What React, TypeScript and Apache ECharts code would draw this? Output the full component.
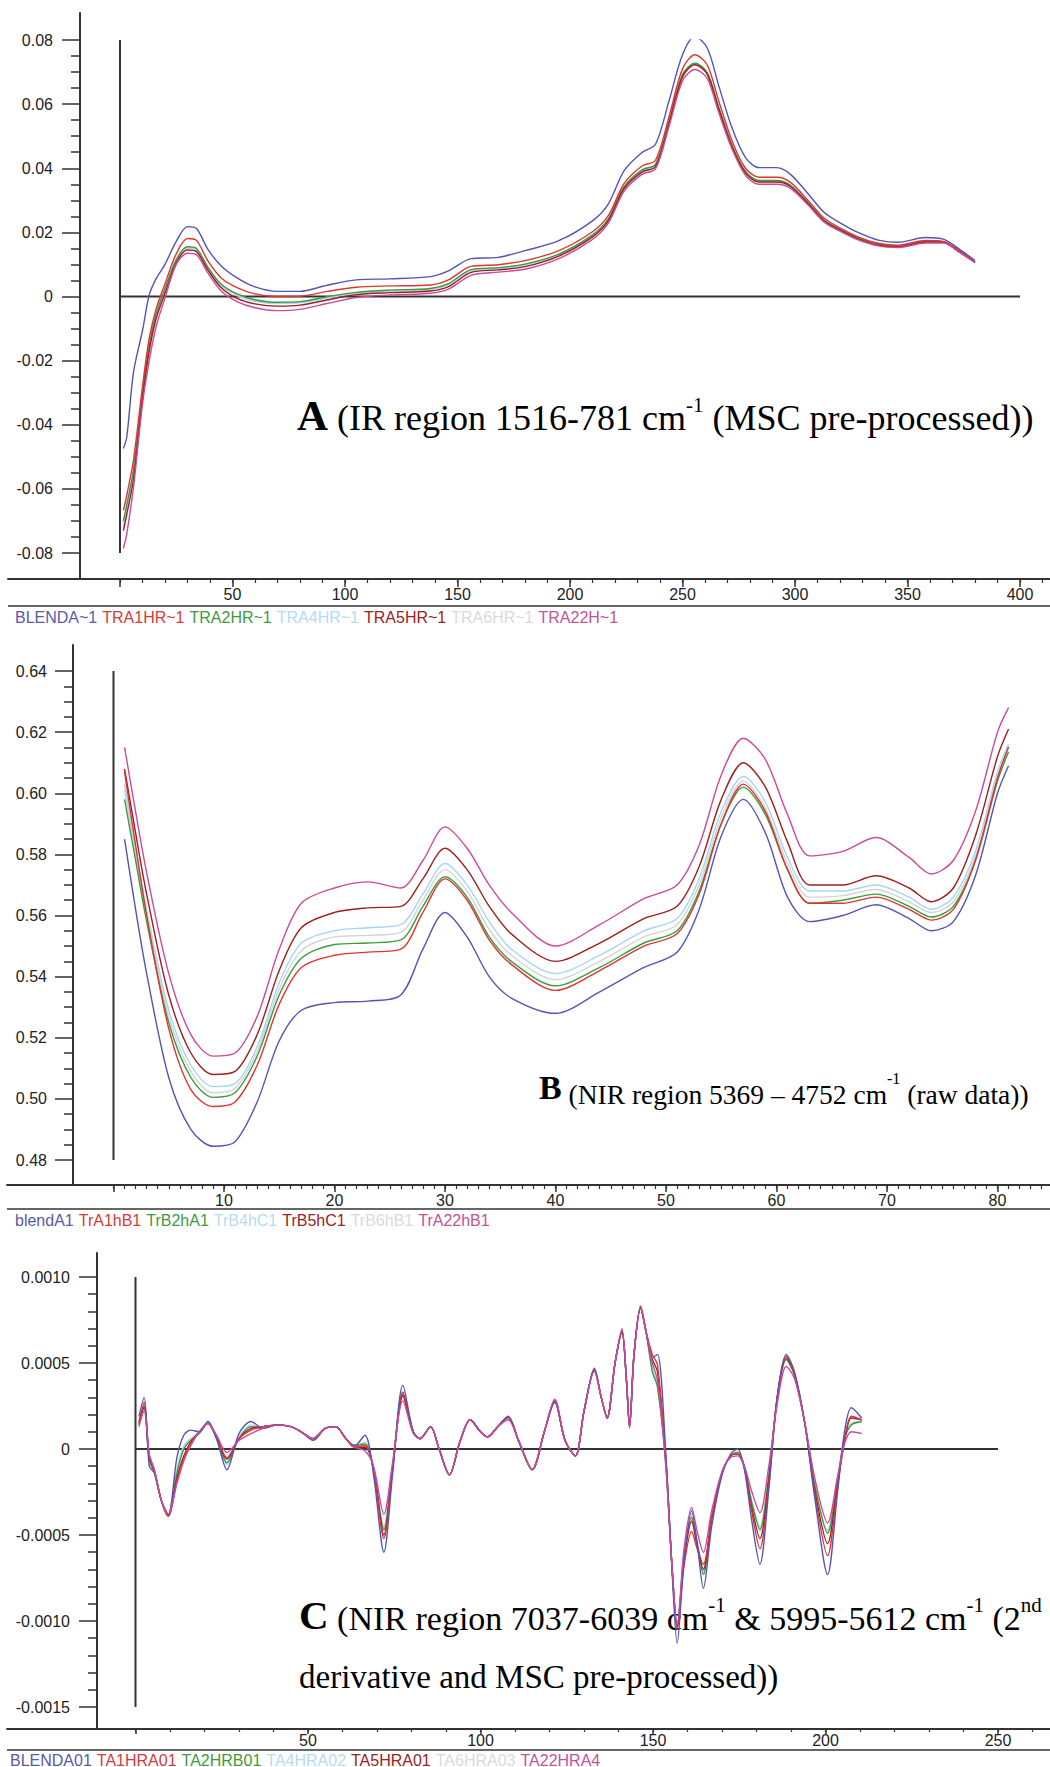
import React, { useEffect, useRef } from 'react';
import * as echarts from 'echarts';

const AXIS_COLOR = '#333333';
const LABEL_COLOR = '#222222';
const SANS = "'Liberation Sans', Arial, sans-serif";
const SERIF = "'Liberation Serif', 'Times New Roman', serif";

const LINE_COLORS = ['#5454b4', '#e03434', '#3c9c3c', '#a6d6f2', '#9e1e1e', '#d4d4d4', '#cc4a9a'];
const LEGEND_COLORS = ['#5a5aa8', '#d63a3a', '#3f9a3f', '#b4dcf2', '#9a2222', '#dadada', '#c4519a'];
const Z_ORDER = [7, 6, 4, 3, 5, 2, 8];

// ---------------- Panel A ----------------
const A_NAMES = ['BLENDA~1', 'TRA1HR~1', 'TRA2HR~1', 'TRA4HR~1', 'TRA5HR~1', 'TRA6HR~1', 'TRA22H~1'];
const A_X = [1.5, 3, 6, 10, 13, 16, 20, 25, 30, 34, 39, 45, 52, 60, 70, 80, 92, 105, 120, 138, 146, 156, 168, 180, 195, 210, 217, 224, 232, 238, 244, 250, 255.5, 261, 266, 272, 278, 284, 292, 298, 306, 313, 321, 328, 337, 346, 358, 366, 373, 380];
const A_BLENDA = [-0.0474, -0.0439, -0.0236, -0.0106, 0.0005, 0.0055, 0.0100, 0.0172, 0.0218, 0.0212, 0.0148, 0.0095, 0.0058, 0.0030, 0.0016, 0.0016, 0.0035, 0.0052, 0.0055, 0.0062, 0.0080, 0.0118, 0.0122, 0.0143, 0.0174, 0.0236, 0.0288, 0.0392, 0.0449, 0.0475, 0.0610, 0.0754, 0.0811, 0.0775, 0.0660, 0.0526, 0.0433, 0.0402, 0.0402, 0.0381, 0.0319, 0.0262, 0.0226, 0.0200, 0.0176, 0.0169, 0.0184, 0.0179, 0.0148, 0.0112];
const A_TRA1HR = [-0.0667, -0.0620, -0.0510, -0.0280, -0.0130, -0.0040, 0.0040, 0.0133, 0.0181, 0.0175, 0.0112, 0.0058, 0.0028, 0.0008, 0.0000, 0.0001, 0.0016, 0.0029, 0.0033, 0.0036, 0.0052, 0.0094, 0.0099, 0.0112, 0.0143, 0.0202, 0.0252, 0.0352, 0.0407, 0.0425, 0.0560, 0.0710, 0.0754, 0.0722, 0.0612, 0.0486, 0.0400, 0.0372, 0.0372, 0.0356, 0.0298, 0.0244, 0.0210, 0.0186, 0.0166, 0.0160, 0.0175, 0.0172, 0.0143, 0.0109];
const A_TRA2HR = [-0.0700, -0.0650, -0.0540, -0.0300, -0.0150, -0.0055, 0.0025, 0.0115, 0.0155, 0.0150, 0.0092, 0.0038, 0.0008, -0.0010, -0.0018, -0.0016, -0.0001, 0.0013, 0.0020, 0.0025, 0.0040, 0.0084, 0.0090, 0.0101, 0.0132, 0.0192, 0.0242, 0.0342, 0.0395, 0.0412, 0.0545, 0.0692, 0.0728, 0.0698, 0.0592, 0.0472, 0.0390, 0.0362, 0.0362, 0.0347, 0.0291, 0.0238, 0.0206, 0.0183, 0.0163, 0.0157, 0.0172, 0.0170, 0.0141, 0.0107];
const A_TRA4HR = [-0.0715, -0.0660, -0.0550, -0.0310, -0.0160, -0.0062, 0.0018, 0.0110, 0.0150, 0.0145, 0.0088, 0.0033, 0.0003, -0.0015, -0.0022, -0.0020, -0.0005, 0.0010, 0.0017, 0.0022, 0.0037, 0.0081, 0.0087, 0.0098, 0.0130, 0.0190, 0.0240, 0.0340, 0.0392, 0.0409, 0.0542, 0.0688, 0.0725, 0.0695, 0.0590, 0.0470, 0.0388, 0.0360, 0.0360, 0.0345, 0.0290, 0.0237, 0.0205, 0.0182, 0.0162, 0.0156, 0.0171, 0.0169, 0.0140, 0.0107];
const A_TRA5HR = [-0.0730, -0.0680, -0.0570, -0.0320, -0.0170, -0.0070, 0.0010, 0.0105, 0.0145, 0.0140, 0.0083, 0.0027, -0.0006, -0.0023, -0.0030, -0.0027, -0.0011, 0.0006, 0.0012, 0.0017, 0.0031, 0.0075, 0.0083, 0.0093, 0.0126, 0.0186, 0.0236, 0.0336, 0.0388, 0.0405, 0.0540, 0.0685, 0.0723, 0.0693, 0.0587, 0.0467, 0.0385, 0.0357, 0.0357, 0.0343, 0.0288, 0.0235, 0.0203, 0.0180, 0.0160, 0.0155, 0.0170, 0.0169, 0.0139, 0.0106];
const A_TRA6HR = [-0.0705, -0.0655, -0.0545, -0.0305, -0.0155, -0.0058, 0.0022, 0.0113, 0.0153, 0.0148, 0.0090, 0.0036, 0.0006, -0.0012, -0.0020, -0.0018, -0.0003, 0.0012, 0.0019, 0.0024, 0.0039, 0.0083, 0.0089, 0.0100, 0.0131, 0.0191, 0.0241, 0.0341, 0.0394, 0.0411, 0.0544, 0.0690, 0.0727, 0.0697, 0.0591, 0.0471, 0.0389, 0.0361, 0.0361, 0.0346, 0.0290, 0.0238, 0.0206, 0.0182, 0.0163, 0.0157, 0.0172, 0.0170, 0.0140, 0.0107];
const A_TRA22H = [-0.0786, -0.0740, -0.0595, -0.0335, -0.0200, -0.0095, -0.0005, 0.0100, 0.0135, 0.0130, 0.0074, 0.0017, -0.0016, -0.0035, -0.0044, -0.0040, -0.0022, -0.0003, 0.0005, 0.0010, 0.0023, 0.0066, 0.0076, 0.0085, 0.0118, 0.0178, 0.0228, 0.0328, 0.0381, 0.0398, 0.0530, 0.0672, 0.0708, 0.0680, 0.0576, 0.0460, 0.0378, 0.0350, 0.0350, 0.0337, 0.0284, 0.0232, 0.0200, 0.0177, 0.0158, 0.0153, 0.0167, 0.0167, 0.0138, 0.0106];
const A_SERIES = [A_BLENDA, A_TRA1HR, A_TRA2HR, A_TRA4HR, A_TRA5HR, A_TRA6HR, A_TRA22H];
const A_Y_MIN = -0.08;
const A_Y_MAX = 0.08;
const A_X_MAX = 410;
const A_X_TICKS = [0, 50, 100, 150, 200, 250, 300, 350, 400];
const A_X_LABELS = [50, 100, 150, 200, 250, 300, 350, 400];
const A_BASE_END = 400;

// ---------------- Panel B ----------------
const B_NAMES = ['blendA1', 'TrA1hB1', 'TrB2hA1', 'TrB4hC1', 'TrB5hC1', 'TrB6hB1', 'TrA22hB1'];
const B_X = [1, 2, 3, 5, 7, 9, 11, 13, 15, 17, 20, 23, 26, 28, 30, 32, 34, 36, 40, 44, 48, 51, 53, 55, 57, 59, 61, 63, 66, 69, 72, 74, 76, 78, 80, 81];
const B_BLENDA1 = [0.585, 0.562, 0.541, 0.507, 0.490, 0.4845, 0.486, 0.499, 0.519, 0.529, 0.5315, 0.532, 0.534, 0.549, 0.561, 0.553, 0.540, 0.533, 0.528, 0.535, 0.543, 0.548, 0.562, 0.586, 0.598, 0.587, 0.566, 0.558, 0.560, 0.5635, 0.559, 0.555, 0.558, 0.573, 0.600, 0.609];
const B_TRA1HB1 = [0.607, 0.583, 0.560, 0.523, 0.503, 0.4975, 0.499, 0.511, 0.531, 0.543, 0.547, 0.548, 0.549, 0.561, 0.572, 0.565, 0.552, 0.544, 0.5355, 0.542, 0.550, 0.554, 0.567, 0.590, 0.603, 0.594, 0.575, 0.564, 0.564, 0.566, 0.562, 0.5585, 0.562, 0.578, 0.605, 0.6152];
const B_TRB2HA1 = [0.598, 0.578, 0.558, 0.525, 0.507, 0.5005, 0.502, 0.514, 0.534, 0.546, 0.5505, 0.551, 0.552, 0.563, 0.5727, 0.566, 0.553, 0.545, 0.537, 0.543, 0.551, 0.555, 0.568, 0.590, 0.602, 0.593, 0.575, 0.564, 0.565, 0.567, 0.563, 0.5595, 0.563, 0.578, 0.604, 0.6136];
const B_TRB4HC1 = [0.603, 0.582, 0.562, 0.529, 0.511, 0.504, 0.505, 0.517, 0.538, 0.551, 0.555, 0.556, 0.557, 0.567, 0.577, 0.570, 0.558, 0.549, 0.541, 0.547, 0.555, 0.559, 0.572, 0.594, 0.6055, 0.597, 0.579, 0.568, 0.568, 0.570, 0.566, 0.562, 0.566, 0.581, 0.607, 0.616];
const B_TRB5HC1 = [0.608, 0.587, 0.567, 0.534, 0.515, 0.508, 0.509, 0.521, 0.542, 0.556, 0.561, 0.5625, 0.563, 0.572, 0.582, 0.575, 0.563, 0.554, 0.545, 0.551, 0.559, 0.563, 0.576, 0.598, 0.610, 0.602, 0.584, 0.570, 0.570, 0.573, 0.569, 0.5645, 0.569, 0.586, 0.612, 0.621];
const B_TRB6HB1 = [0.601, 0.580, 0.560, 0.527, 0.509, 0.502, 0.5035, 0.5155, 0.536, 0.5485, 0.553, 0.5535, 0.5545, 0.565, 0.575, 0.568, 0.5555, 0.547, 0.539, 0.545, 0.553, 0.557, 0.570, 0.592, 0.604, 0.595, 0.577, 0.566, 0.5665, 0.5685, 0.5645, 0.561, 0.5645, 0.5795, 0.6055, 0.615];
const B_TRA22HB1 = [0.615, 0.594, 0.574, 0.541, 0.521, 0.514, 0.515, 0.527, 0.549, 0.564, 0.569, 0.571, 0.569, 0.578, 0.589, 0.582, 0.570, 0.561, 0.550, 0.557, 0.5655, 0.570, 0.583, 0.606, 0.618, 0.611, 0.593, 0.5795, 0.581, 0.5855, 0.579, 0.5736, 0.578, 0.594, 0.620, 0.628];
const B_SERIES = [B_BLENDA1, B_TRA1HB1, B_TRB2HA1, B_TRB4HC1, B_TRB5HC1, B_TRB6HB1, B_TRA22HB1];
const B_Y_MIN = 0.48;
const B_Y_MAX = 0.64;
const B_X_MAX = 84;
const B_X_TICKS = [0, 10, 20, 30, 40, 50, 60, 70, 80];
const B_X_LABELS = [10, 20, 30, 40, 50, 60, 70, 80];

// ---------------- Panel C ----------------
const C_NAMES = ['BLENDA01', 'TA1HRA01', 'TA2HRB01', 'TA4HRA02', 'TA5HRA01', 'TA6HRA03', 'TA22HRA4'];
const C_X = [1, 2.5, 4, 5.5, 7.5, 9.5, 12, 14, 16, 18.5, 21, 23.5, 26.5, 30, 33.5, 37, 41, 45, 48, 51.5, 55, 58, 61, 63.5, 66.5, 69, 72, 74.5, 77.5, 80.5, 82.5, 85.5, 88, 91, 94, 97, 100, 102, 105, 108, 111, 115, 118.5, 121.5, 124.5, 127.5, 130, 133, 135, 136.7, 139, 141, 142.3, 143.2, 144.5, 146.4, 148, 149.8, 151.3, 153.7, 155.5, 157, 159, 161.2, 162.8, 164.6, 167, 170, 172.5, 174.5, 176.5, 178.5, 181, 183.5, 186, 188.6, 191, 194, 197, 200.6, 203.5, 205.5, 207.5, 210.5];
const C_BLENDA01 = [1.9e-4, 3.0e-4, -1.0e-4, -1.4e-4, -3.0e-4, -3.8e-4, -0.5e-4, 0.8e-4, 1.1e-4, 1.0e-4, 1.6e-4, 0.6e-4, -1.2e-4, 0.9e-4, 1.6e-4, 1.2e-4, 1.4e-4, 1.3e-4, 1.0e-4, 0.5e-4, 1.2e-4, 1.3e-4, 0.6e-4, 0.2e-4, 0.8e-4, -1.5e-4, -6.0e-4, -1.5e-4, 3.7e-4, 1.0e-4, 0.6e-4, 1.3e-4, 0.0, -1.5e-4, 0.4e-4, 1.7e-4, 1.0e-4, 0.7e-4, 1.3e-4, 1.9e-4, 0.5e-4, -1.2e-4, 1.0e-4, 2.7e-4, 0.5e-4, -0.4e-4, 2.2e-4, 4.7e-4, 3.0e-4, 1.8e-4, 5.0e-4, 6.9e-4, 4.0e-4, 1.3e-4, 5.5e-4, 8.3e-4, 6.8e-4, 5.3e-4, 5.5e-4, -0.2e-4, -7.0e-4, -11.3e-4, -6.5e-4, -3.6e-4, -5.5e-4, -8.1e-4, -4.5e-4, -1.5e-4, -0.3e-4, 0.0, -1.2e-4, -4.0e-4, -6.7e-4, -2.5e-4, 3.0e-4, 5.5e-4, 4.5e-4, 1.5e-4, -3.0e-4, -7.3e-4, -2.5e-4, 1.0e-4, 2.4e-4, 1.8e-4];
const C_TA1HRA01 = [1.4e-4, 2.7e-4, -0.4e-4, -1.3e-4, -3.0e-4, -3.9e-4, -1.9e-4, -0.6e-4, 0.3e-4, 1.0e-4, 1.5e-4, 0.7e-4, -0.5e-4, 0.6e-4, 1.1e-4, 1.3e-4, 1.4e-4, 1.3e-4, 1.0e-4, 0.6e-4, 1.2e-4, 1.3e-4, 0.6e-4, 0.1e-4, 0.2e-4, -1.2e-4, -5.2e-4, -1.2e-4, 3.3e-4, 1.0e-4, 0.6e-4, 1.3e-4, 0.0, -1.5e-4, 0.4e-4, 1.7e-4, 1.0e-4, 0.7e-4, 1.3e-4, 1.85e-4, 0.5e-4, -1.2e-4, 1.0e-4, 2.8e-4, 0.5e-4, -0.4e-4, 2.2e-4, 4.6e-4, 3.0e-4, 1.8e-4, 5.0e-4, 6.8e-4, 4.0e-4, 1.3e-4, 5.5e-4, 8.2e-4, 6.8e-4, 5.5e-4, 4.9e-4, -0.5e-4, -6.8e-4, -10.5e-4, -6.8e-4, -4.8e-4, -5.8e-4, -6.7e-4, -4.0e-4, -1.4e-4, -0.4e-4, -0.3e-4, -1.1e-4, -3.5e-4, -5.8e-4, -2.2e-4, 3.0e-4, 5.4e-4, 4.4e-4, 1.5e-4, -2.7e-4, -6.2e-4, -2.2e-4, 0.5e-4, 1.9e-4, 1.7e-4];
const C_TA2HRB01 = [1.6e-4, 2.5e-4, -0.6e-4, -1.4e-4, -3.0e-4, -3.85e-4, -1.4e-4, 0.0, 0.5e-4, 0.9e-4, 1.5e-4, 0.6e-4, -0.8e-4, 0.6e-4, 1.3e-4, 1.2e-4, 1.4e-4, 1.3e-4, 1.0e-4, 0.6e-4, 1.2e-4, 1.3e-4, 0.6e-4, 0.2e-4, 0.3e-4, -1.2e-4, -4.7e-4, -1.1e-4, 3.2e-4, 1.0e-4, 0.6e-4, 1.3e-4, 0.0, -1.5e-4, 0.4e-4, 1.7e-4, 1.0e-4, 0.7e-4, 1.3e-4, 1.85e-4, 0.5e-4, -1.2e-4, 1.0e-4, 2.8e-4, 0.5e-4, -0.4e-4, 2.2e-4, 4.6e-4, 3.0e-4, 1.8e-4, 5.0e-4, 6.8e-4, 4.0e-4, 1.3e-4, 5.5e-4, 8.2e-4, 6.8e-4, 4.5e-4, 3.6e-4, -0.8e-4, -6.8e-4, -10.4e-4, -6.2e-4, -4.0e-4, -5.5e-4, -7.3e-4, -4.2e-4, -1.4e-4, -0.4e-4, -0.2e-4, -1.0e-4, -3.0e-4, -4.7e-4, -1.7e-4, 2.9e-4, 5.2e-4, 4.3e-4, 1.5e-4, -2.2e-4, -4.9e-4, -1.8e-4, 0.6e-4, 1.4e-4, 1.6e-4];
const C_TA4HRA02 = [1.7e-4, 2.6e-4, -0.7e-4, -1.4e-4, -3.0e-4, -3.85e-4, -1.2e-4, 0.2e-4, 0.6e-4, 1.0e-4, 1.6e-4, 0.6e-4, -0.9e-4, 0.7e-4, 1.4e-4, 1.2e-4, 1.4e-4, 1.3e-4, 1.0e-4, 0.6e-4, 1.2e-4, 1.3e-4, 0.6e-4, 0.2e-4, 0.4e-4, -1.2e-4, -4.5e-4, -1.0e-4, 3.1e-4, 1.0e-4, 0.6e-4, 1.3e-4, 0.0, -1.5e-4, 0.4e-4, 1.7e-4, 1.0e-4, 0.7e-4, 1.3e-4, 1.85e-4, 0.5e-4, -1.2e-4, 1.0e-4, 2.8e-4, 0.5e-4, -0.4e-4, 2.2e-4, 4.6e-4, 3.0e-4, 1.8e-4, 5.0e-4, 6.8e-4, 4.0e-4, 1.3e-4, 5.5e-4, 8.2e-4, 6.8e-4, 4.7e-4, 3.8e-4, -0.8e-4, -6.8e-4, -10.4e-4, -6.0e-4, -3.8e-4, -5.3e-4, -7.1e-4, -4.1e-4, -1.4e-4, -0.4e-4, -0.2e-4, -1.0e-4, -2.9e-4, -4.5e-4, -1.6e-4, 2.9e-4, 5.2e-4, 4.3e-4, 1.5e-4, -2.2e-4, -4.7e-4, -1.7e-4, 0.6e-4, 1.5e-4, 1.6e-4];
const C_TA5HRA01 = [1.5e-4, 2.4e-4, -0.5e-4, -1.3e-4, -3.0e-4, -3.9e-4, -1.7e-4, -0.4e-4, 0.4e-4, 1.0e-4, 1.5e-4, 0.7e-4, -0.6e-4, 0.6e-4, 1.2e-4, 1.3e-4, 1.4e-4, 1.3e-4, 1.0e-4, 0.6e-4, 1.2e-4, 1.3e-4, 0.6e-4, 0.1e-4, 0.1e-4, -1.1e-4, -5.0e-4, -1.2e-4, 3.1e-4, 1.0e-4, 0.6e-4, 1.3e-4, 0.0, -1.5e-4, 0.4e-4, 1.7e-4, 1.0e-4, 0.7e-4, 1.3e-4, 1.85e-4, 0.5e-4, -1.2e-4, 1.0e-4, 2.8e-4, 0.5e-4, -0.4e-4, 2.2e-4, 4.6e-4, 3.0e-4, 1.8e-4, 5.0e-4, 6.8e-4, 4.0e-4, 1.3e-4, 5.5e-4, 8.2e-4, 6.8e-4, 5.2e-4, 4.5e-4, -0.6e-4, -6.8e-4, -10.3e-4, -6.5e-4, -4.2e-4, -5.6e-4, -7.0e-4, -4.0e-4, -1.4e-4, -0.4e-4, -0.3e-4, -1.1e-4, -3.3e-4, -5.2e-4, -1.9e-4, 3.0e-4, 5.3e-4, 4.4e-4, 1.5e-4, -2.5e-4, -5.5e-4, -2.0e-4, 0.4e-4, 1.8e-4, 1.7e-4];
const C_TA6HRA03 = [1.6e-4, 2.5e-4, -0.6e-4, -1.4e-4, -3.0e-4, -3.85e-4, -1.3e-4, 0.1e-4, 0.5e-4, 1.0e-4, 1.5e-4, 0.6e-4, -0.8e-4, 0.7e-4, 1.3e-4, 1.2e-4, 1.4e-4, 1.3e-4, 1.0e-4, 0.6e-4, 1.2e-4, 1.3e-4, 0.6e-4, 0.2e-4, 0.3e-4, -1.2e-4, -4.6e-4, -1.1e-4, 3.1e-4, 1.0e-4, 0.6e-4, 1.3e-4, 0.0, -1.5e-4, 0.4e-4, 1.7e-4, 1.0e-4, 0.7e-4, 1.3e-4, 1.85e-4, 0.5e-4, -1.2e-4, 1.0e-4, 2.8e-4, 0.5e-4, -0.4e-4, 2.2e-4, 4.6e-4, 3.0e-4, 1.8e-4, 5.0e-4, 6.8e-4, 4.0e-4, 1.3e-4, 5.5e-4, 8.2e-4, 6.8e-4, 4.6e-4, 3.7e-4, -0.8e-4, -6.8e-4, -10.4e-4, -6.1e-4, -3.9e-4, -5.4e-4, -7.2e-4, -4.1e-4, -1.4e-4, -0.4e-4, -0.2e-4, -1.0e-4, -3.0e-4, -4.6e-4, -1.6e-4, 2.9e-4, 5.2e-4, 4.3e-4, 1.5e-4, -2.2e-4, -4.8e-4, -1.7e-4, 0.6e-4, 1.4e-4, 1.6e-4];
const C_TA22HRA4 = [1.3e-4, 2.2e-4, -0.3e-4, -1.2e-4, -3.0e-4, -3.8e-4, -2.0e-4, -0.7e-4, 0.2e-4, 1.0e-4, 1.5e-4, 0.8e-4, -0.2e-4, 0.5e-4, 0.9e-4, 1.2e-4, 1.4e-4, 1.3e-4, 1.0e-4, 0.6e-4, 1.2e-4, 1.3e-4, 0.6e-4, 0.1e-4, -0.1e-4, -1.0e-4, -3.8e-4, -0.8e-4, 2.8e-4, 0.9e-4, 0.6e-4, 1.3e-4, 0.0, -1.5e-4, 0.4e-4, 1.7e-4, 1.0e-4, 0.7e-4, 1.3e-4, 1.7e-4, 0.5e-4, -1.2e-4, 1.0e-4, 2.9e-4, 0.5e-4, -0.4e-4, 2.2e-4, 4.5e-4, 3.0e-4, 1.8e-4, 5.0e-4, 7.0e-4, 4.0e-4, 1.2e-4, 5.5e-4, 8.3e-4, 6.8e-4, 5.0e-4, 4.0e-4, -1.0e-4, -6.8e-4, -10.2e-4, -5.8e-4, -3.4e-4, -4.8e-4, -6.0e-4, -3.6e-4, -1.3e-4, -0.5e-4, -0.4e-4, -1.0e-4, -2.4e-4, -3.7e-4, -1.1e-4, 2.6e-4, 4.8e-4, 4.1e-4, 1.5e-4, -1.8e-4, -4.3e-4, -1.6e-4, 0.3e-4, 1.0e-4, 0.9e-4];
const C_SERIES = [C_BLENDA01, C_TA1HRA01, C_TA2HRB01, C_TA4HRA02, C_TA5HRA01, C_TA6HRA03, C_TA22HRA4];
const C_Y_MIN = -0.0015;
const C_Y_MAX = 0.0010;
const C_X_MAX = 260;
const C_X_TICKS = [0, 50, 100, 150, 200, 250];
const C_X_LABELS = [50, 100, 150, 200, 250];
const C_BASE_END = 250;

// ---------------- helpers ----------------
const outerX = (gridIndex: number) => ({
  gridIndex, type: 'value', min: 0, max: 1,
  axisLine: { show: true, onZero: false, lineStyle: { color: AXIS_COLOR, width: 2 } },
  axisTick: { show: false }, axisLabel: { show: false }, splitLine: { show: false },
});
const outerY = (gridIndex: number, offset: number) => ({
  gridIndex, type: 'value', min: 0, max: 1, offset,
  axisLine: { show: true, onZero: false, lineStyle: { color: AXIS_COLOR, width: 2 } },
  axisTick: { show: false }, axisLabel: { show: false }, splitLine: { show: false },
});
const minorX = (gridIndex: number, max: number, interval: number, offset: number, len: number) => ({
  gridIndex, type: 'value', min: 0, max, interval, offset, position: 'bottom',
  axisLine: { show: false, onZero: false },
  axisTick: { show: true, length: len, lineStyle: { color: AXIS_COLOR, width: 1.2 } },
  axisLabel: { show: false },
  splitLine: { show: false },
});
const majorX = (gridIndex: number, max: number, interval: number, offset: number, len: number, margin: number, ticks: number[], labels: number[]) => ({
  gridIndex, type: 'value', min: 0, max, interval, offset, position: 'bottom',
  axisLine: { show: false, onZero: false },
  axisTick: { show: true, length: len, customValues: ticks, lineStyle: { color: AXIS_COLOR, width: 1.5 } },
  axisLabel: {
    show: true, margin, color: LABEL_COLOR, fontFamily: SANS, fontSize: 16, customValues: labels,
    formatter: (v: number) => (v > 0 && labels.indexOf(Math.round(v)) >= 0 ? String(Math.round(v)) : ''),
  },
  splitLine: { show: false },
});
const innerY = (gridIndex: number, min: number, max: number, interval: number, minorSplit: number, offset: number, margin: number, digits: number) => ({
  gridIndex, type: 'value', min, max, interval, offset, position: 'left',
  axisLine: { show: false, onZero: false },
  axisTick: { show: true, length: 18, lineStyle: { color: AXIS_COLOR, width: 1.5 } },
  minorTick: { show: true, splitNumber: minorSplit, length: 9, lineStyle: { color: AXIS_COLOR, width: 1.5 } },
  axisLabel: {
    show: true, margin, color: LABEL_COLOR, fontFamily: SANS, fontSize: 16,
    formatter: (v: number) => (Math.abs(v) < 1e-12 ? '0' : v.toFixed(digits)),
  },
  splitLine: { show: false },
});

const curveSeries = (names: string[], xs: number[], ys: number[][], xIndex: number, yIndex: number) =>
  names.map((name, i) => ({
    name, type: 'line', xAxisIndex: xIndex, yAxisIndex: yIndex,
    data: xs.map((x, j) => [x, ys[i][j]]),
    showSymbol: false, symbol: 'none', smooth: 0.3, silent: true,
    lineStyle: { color: LINE_COLORS[i], width: 1.4 }, itemStyle: { color: LINE_COLORS[i] },
    z: Z_ORDER[i], emphasis: { disabled: true },
  }));

const frameSeries = (data: number[][], xIndex: number, yIndex: number) => ({
  type: 'line', xAxisIndex: xIndex, yAxisIndex: yIndex, data,
  showSymbol: false, symbol: 'none', silent: true, z: 1,
  lineStyle: { color: AXIS_COLOR, width: 2 }, emphasis: { disabled: true },
});

const legendFor = (names: string[], left: number, top: number) => ({
  data: names.map((n, i) => ({ name: n, textStyle: { color: LEGEND_COLORS[i] } })),
  left, top, orient: 'horizontal', icon: 'none', itemWidth: 0, itemHeight: 14, itemGap: 0, padding: 0,
  selectedMode: false,
  textStyle: { fontFamily: SANS, fontSize: 16 },
});

const richFor = (main: number, bold: number, sup: number, boldLH: number) => ({
  b: { fontFamily: SERIF, fontWeight: 'bold', fontSize: bold, lineHeight: boldLH, verticalAlign: 'top', fill: '#000' },
  n: { fontFamily: SERIF, fontSize: main, lineHeight: 48, fill: '#000' },
  s: { fontFamily: SERIF, fontSize: sup, lineHeight: 30, verticalAlign: 'top', fill: '#000' },
});

const textEl = (x: number, y: number, text: string, rich: any) => ({
  type: 'text', x, y, silent: true,
  style: { text, rich, align: 'left', verticalAlign: 'top', textAlign: 'left', textVerticalAlign: 'top', fill: '#000' },
});

const hLine = (x1: number, x2: number, y: number) => ({
  type: 'line', silent: true,
  shape: { x1, y1: y, x2, y2: y },
  style: { stroke: AXIS_COLOR, lineWidth: 1.5 },
});

export default function App() {
  const ref = useRef<HTMLDivElement>(null);
  useEffect(() => {
    if (!ref.current) return;
    const chart = echarts.init(ref.current, null, { renderer: 'svg' });
    const option: any = {
      animation: false,
      backgroundColor: '#ffffff',
      grid: [
        { left: 8, top: 13, width: 1042, height: 566 },
        { left: 120, top: 40, width: 922.5, height: 513 },
        { left: 7, top: 645, width: 1043, height: 540 },
        { left: 113.5, top: 671, width: 928.2, height: 489 },
        { left: 7, top: 1253, width: 1043, height: 476 },
        { left: 135.5, top: 1277, width: 897, height: 430 },
      ],
      xAxis: [
        outerX(0),
        minorX(1, A_X_MAX, 10, 26, 4),
        majorX(1, A_X_MAX, 50, 26, 8, 7, A_X_TICKS, A_X_LABELS),
        outerX(2),
        minorX(3, B_X_MAX, 1, 25, 4),
        majorX(3, B_X_MAX, 10, 25, 7, 7, B_X_TICKS, B_X_LABELS),
        outerX(4),
        minorX(5, C_X_MAX, 10, 22, 3),
        majorX(5, C_X_MAX, 50, 22, 5, 3, C_X_TICKS, C_X_LABELS),
      ],
      yAxis: [
        outerY(0, -72),
        innerY(1, A_Y_MIN, A_Y_MAX, 0.02, 4, 40, 27, 2),
        outerY(2, -66),
        innerY(3, B_Y_MIN, B_Y_MAX, 0.02, 4, 40.5, 26, 2),
        outerY(4, -90),
        innerY(5, C_Y_MIN, C_Y_MAX, 0.0005, 5, 38.5, 27, 4),
      ],
      legend: [
        legendFor(A_NAMES, 10, 609),
        legendFor(B_NAMES, 10, 1212),
        legendFor(C_NAMES, 5, 1752),
      ],
      graphic: [
        hLine(8, 1050, 606),
        hLine(7, 1050, 1209),
        hLine(7, 1050, 1750),
        textEl(297, 394, '{b|A}{n| (IR region 1516-781 cm}{s|-1}{n| (MSC pre-processed))}', richFor(36, 43, 21, 43)),
        textEl(539, 1070.5, '{b|B}{n| (NIR region 5369 \u2013 4752 cm}{s|-1}{n| (raw data))}', richFor(27.5, 34, 16, 43.6)),
        textEl(299, 1594.5, '{b|C}{n| (NIR region 7037-6039 cm}{s|-1}{n| & 5995-5612 cm}{s|-1}{n| (2}{s|nd}', richFor(34, 41, 21, 43.4)),
        textEl(299, 1653, '{n|derivative and MSC pre-processed))}', richFor(33, 40, 19, 43)),
      ],
      series: [
        frameSeries([[0, A_Y_MAX], [0, A_Y_MIN]], 1, 1),
        frameSeries([[0, 0], [A_BASE_END, 0]], 1, 1),
        ...curveSeries(A_NAMES, A_X, A_SERIES, 1, 1),
        frameSeries([[0, B_Y_MAX], [0, B_Y_MIN]], 4, 3),
        ...curveSeries(B_NAMES, B_X, B_SERIES, 4, 3),
        frameSeries([[0, C_Y_MAX], [0, C_Y_MIN]], 7, 5),
        frameSeries([[0, 0], [C_BASE_END, 0]], 7, 5),
        ...curveSeries(C_NAMES, C_X, C_SERIES, 7, 5),
      ],
    };
    chart.setOption(option);
    return () => chart.dispose();
  }, []);
  return (
    <div style={{ position: 'absolute', left: 0, top: 0, width: 1050, height: 1767, background: '#fff' }}>
      <div ref={ref} style={{ width: 1050, height: 1767 }} />
    </div>
  );
}
